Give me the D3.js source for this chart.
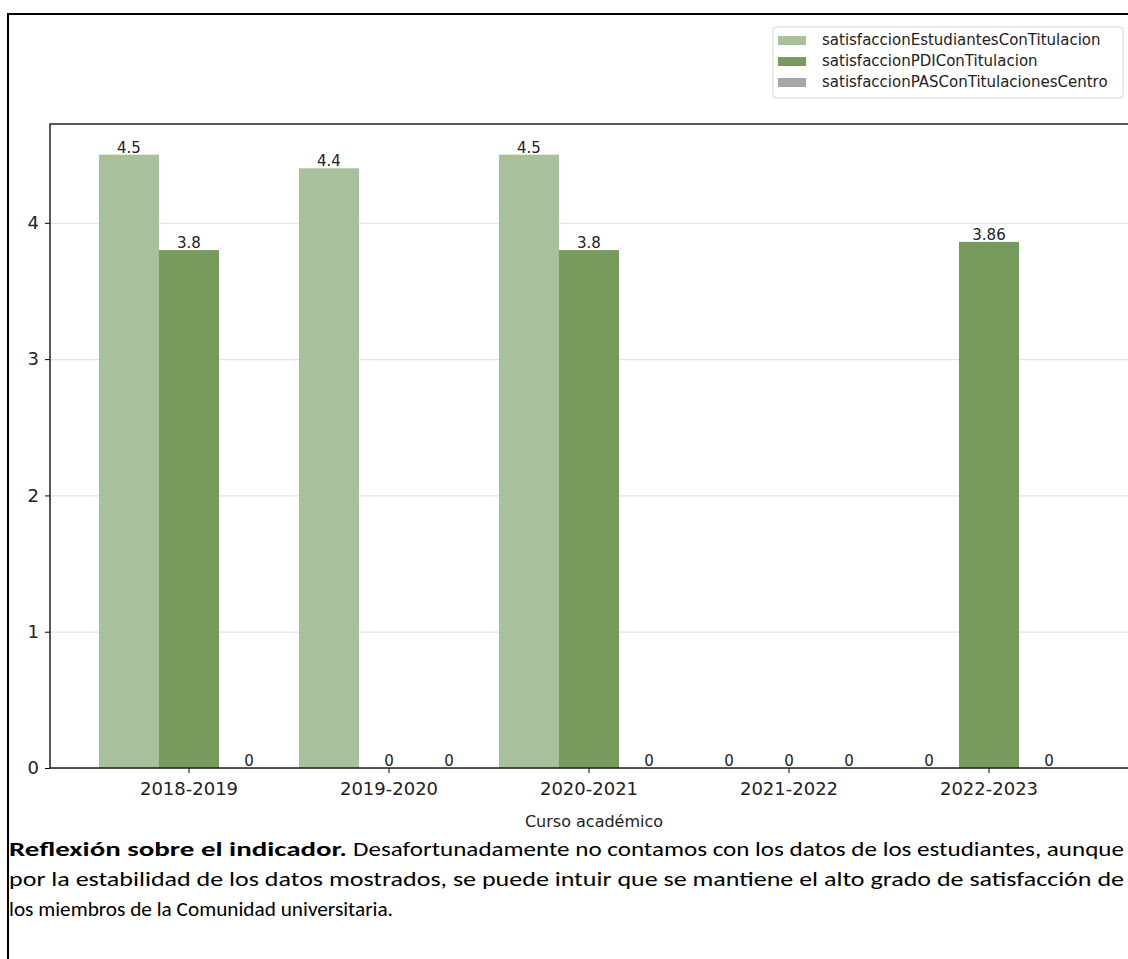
<!DOCTYPE html>
<html>
<head>
<meta charset="utf-8">
<script src="https://cdn.jsdelivr.net/npm/d3@7"></script>
<style>
  body { margin: 0; background: #fff; }
  svg { display: block; }
  .tick text { font-family: "DejaVu Sans", sans-serif; }
</style>
</head>
<body>
<svg id="chart-svg"></svg>
<script>
const width = 1128
const height = 959

// data
const cursos = ['2018-2019', '2019-2020', '2020-2021', '2021-2022', '2022-2023']
const seriesNames = ['satisfaccionEstudiantesConTitulacion', 'satisfaccionPDIConTitulacion', 'satisfaccionPASConTitulacionesCentro']
const estudiantes = [4.5, 4.4, 4.5, 0, 0]
const pdi = [3.8, 0, 3.8, 0, 3.86]
const pas = [0, 0, 0, 0, 0]
const seriesColors = ['#a9c19a', '#779a5d', '#a6a6a6']
const yTicks = [0, 1, 2, 3, 4]

const rows = cursos.map((c, i) => ({curso: c, values: [estudiantes[i], pdi[i], pas[i]]}))

const margin = {top: 124, left: 50, bottom: 768, right: 1128}

const svg = d3.select('svg#chart-svg').attr('width', width).attr('height', height)
svg.append('rect').attr('width', width).attr('height', height).attr('fill', '#fff')

// page border (document frame)
svg.append('path')
  .attr('d', 'M8,' + (height + 2) + 'V14H' + (width + 2))
  .attr('fill', 'none')
  .attr('stroke', '#000')
  .attr('stroke-width', 2)

const x0 = d3.scaleBand().domain(cursos).range([margin.left, margin.right])
  .paddingInner(0.1).paddingOuter(0.245)
const x1 = d3.scaleBand().domain(d3.range(seriesNames.length)).range([0, x0.bandwidth()])
const y = d3.scaleLinear().domain([0, 4.725]).range([margin.bottom, margin.top])

// grid
svg.append('g').selectAll('line').data(yTicks).enter().append('line')
  .attr('x1', margin.left).attr('x2', margin.right)
  .attr('y1', d => y(d) + 0.5).attr('y2', d => y(d) + 0.5)
  .attr('stroke', '#e3e3e3').attr('stroke-width', 1.2)

// bars
const gSet = svg.append('g').selectAll('g').data(rows).enter().append('g')
  .attr('transform', d => `translate(${x0(d.curso)},0)`)

gSet.selectAll('rect').data(d => d.values).enter().append('rect')
  .attr('x', (d, i) => x1(i))
  .attr('y', d => y(d))
  .attr('width', x1.bandwidth())
  .attr('height', d => y(0) - y(d))
  .attr('fill', (d, i) => seriesColors[i])

gSet.selectAll('text').data(d => d.values).enter().append('text')
  .attr('x', (d, i) => x1(i) + x1.bandwidth() / 2)
  .attr('y', d => y(d) - 2)
  .attr('text-anchor', 'middle')
  .attr('font-family', 'DejaVu Sans, sans-serif')
  .attr('font-size', 15)
  .attr('fill', '#222')
  .text(d => d)

// axes
const yAxis = svg.append('g').attr('transform', `translate(${margin.left},0)`)
  .call(d3.axisLeft(y).tickValues(yTicks).tickSize(5).tickPadding(6).tickFormat(d3.format('d')))
yAxis.selectAll('text').attr('font-size', 18).attr('fill', '#222')
yAxis.select('.domain').remove()

const xAxis = svg.append('g').attr('transform', `translate(0,${margin.bottom})`)
  .call(d3.axisBottom(x0).tickSize(5).tickPadding(9))
xAxis.selectAll('text').attr('font-size', 18).attr('fill', '#222')
xAxis.select('.domain').remove()

// spines
svg.append('path')
  .attr('d', `M${margin.right},${margin.top}H${margin.left}V${margin.bottom}H${margin.right}`)
  .attr('fill', 'none').attr('stroke', '#222').attr('stroke-width', 1.5)

svg.append('text')
  .attr('x', 594)
  .attr('y', 827)
  .attr('text-anchor', 'middle')
  .attr('font-family', 'DejaVu Sans, sans-serif')
  .attr('font-size', 16)
  .attr('fill', '#222')
  .text('Curso académico')

// legend
const legend = svg.append('g').attr('transform', 'translate(773,27)')
legend.append('rect')
  .attr('width', 350).attr('height', 71).attr('rx', 3)
  .attr('fill', '#fff').attr('stroke', '#d5d5d5')
const items = legend.selectAll('g.item').data(seriesNames).enter().append('g')
  .attr('class', 'item')
  .attr('transform', (d, i) => `translate(0,${13 + i * 21})`)
items.append('rect')
  .attr('x', 5).attr('y', -4).attr('width', 28).attr('height', 9)
  .attr('fill', (d, i) => seriesColors[i])
items.append('text')
  .attr('x', 49).attr('y', 5)
  .attr('font-family', 'DejaVu Sans, sans-serif')
  .attr('font-size', 15)
  .attr('fill', '#222')
  .text(d => d)

// reflection paragraph
const para = svg.append('g')
  .attr('font-family', 'Carlito, "Open Sans", sans-serif')
  .attr('font-size', 20)
  .attr('fill', '#000')
para.append('text').attr('x', 9).attr('y', 856)
  .attr('font-weight', 'bold').attr('textLength', 338).attr('lengthAdjust', 'spacingAndGlyphs')
  .text('Reflexión sobre el indicador.')
para.append('text').attr('x', 353).attr('y', 856)
  .attr('textLength', 771).attr('lengthAdjust', 'spacingAndGlyphs')
  .text('Desafortunadamente no contamos con los datos de los estudiantes, aunque')
para.append('text').attr('x', 9).attr('y', 886)
  .attr('textLength', 1115).attr('lengthAdjust', 'spacingAndGlyphs')
  .text('por la estabilidad de los datos mostrados, se puede intuir que se mantiene el alto grado de satisfacción de')
para.append('text').attr('x', 9).attr('y', 916)
  .attr('textLength', 384).attr('lengthAdjust', 'spacingAndGlyphs')
  .text('los miembros de la Comunidad universitaria.')
</script>
</body>
</html>
